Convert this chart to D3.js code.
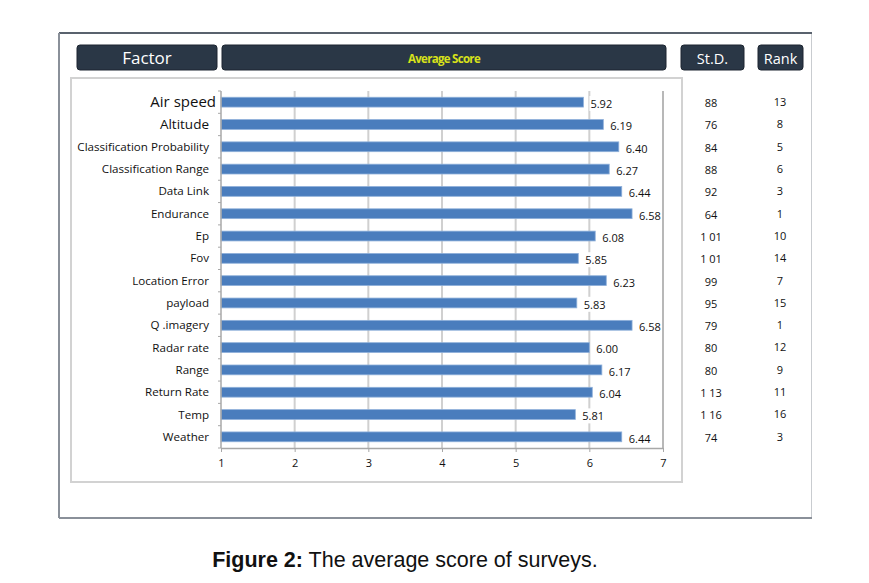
<!DOCTYPE html>
<html><head><meta charset="utf-8">
<script src="https://cdn.jsdelivr.net/npm/d3@7"></script>
<style>
html,body{margin:0;padding:0;background:#fff;}
svg{display:block;}
text{font-family:"Open Sans","Noto Sans",sans-serif;}
</style></head>
<body><svg id="c" width="869" height="583"></svg>
<script>
const factors = ["Air speed","Altitude","Classification Probability","Classification Range","Data Link","Endurance","Ep","Fov","Location Error","payload","Q .imagery","Radar rate","Range","Return Rate","Temp","Weather"];
const scores = [5.92,6.19,6.40,6.27,6.44,6.58,6.08,5.85,6.23,5.83,6.58,6.00,6.17,6.04,5.81,6.44];
const scoreLabels = ["5.92","6.19","6.40","6.27","6.44","6.58","6.08","5.85","6.23","5.83","6.58","6.00","6.17","6.04","5.81","6.44"];
const stds = ["88","76","84","88","92","64","1 01","1 01","99","95","79","80","80","1 13","1 16","74"];
const ranks = ["13","8","5","6","3","1","10","14","7","15","1","12","9","11","16","3"];
const xTicks = [1,2,3,4,5,6,7];
const headers = ["Factor","Average Score","St.D.","Rank"];

const svg = d3.select("#c");

// outer frame
svg.append("rect").attr("x",59.5).attr("y",33.5).attr("width",752).attr("height",484)
  .attr("fill","#fff").attr("stroke","#c9ccd0").attr("stroke-width",1);
svg.append("line").attr("x1",59).attr("x2",812).attr("y1",33).attr("y2",33).attr("stroke","#59626d").attr("stroke-width",2);
svg.append("line").attr("x1",59).attr("x2",59).attr("y1",33).attr("y2",518).attr("stroke","#8a9099").attr("stroke-width",2);
svg.append("line").attr("x1",59).attr("x2",812).attr("y1",518).attr("y2",518).attr("stroke","#8a9099").attr("stroke-width",2);

// header boxes
const hdr = [
  {x:77,w:140,t:headers[0],fs:17,col:"#ffffff",fw:"normal"},
  {x:222,w:444,t:headers[1],fs:11.5,col:"#d8e21a",fw:"bold"},
  {x:681,w:63,t:headers[2],fs:14.5,col:"#ffffff",fw:"normal"},
  {x:758,w:45,t:headers[3],fs:14.5,col:"#ffffff",fw:"normal"}
];
const hg = svg.append("g");
hdr.forEach(h=>{
  hg.append("rect").attr("x",h.x).attr("y",45).attr("width",h.w).attr("height",25).attr("rx",3)
    .attr("fill","#2a3746").attr("stroke","#1c2530").attr("stroke-width",1);
  hg.append("text").attr("x",h.x+h.w/2).attr("y",58.5).attr("dy","0.35em").attr("text-anchor","middle")
    .attr("font-size",h.fs).attr("font-weight",h.fw).attr("fill",h.col)
    .attr("letter-spacing", h.fw==="bold" ? "-0.7" : "0").text(h.t);
});

// inner chart box
svg.append("rect").attr("x",71).attr("y",78).attr("width",611).attr("height",404)
  .attr("fill","#fff").attr("stroke","#d2d2d2").attr("stroke-width",2);

const pL = 221, pR = 663, pT = 91, pB = 448;
const x = d3.scaleLinear().domain([1,7]).range([pL,pR]);
const y = d3.scaleBand().domain(factors).range([pT,pB]).paddingInner(0.56).paddingOuter(0.28);
const yb = d3.scaleBand().domain(factors).range([pT,pB]);

// gridlines
svg.append("g").selectAll("line").data(xTicks.slice(1)).join("line")
  .attr("x1",d=>x(d)).attr("x2",d=>x(d)).attr("y1",pT).attr("y2",pB)
  .attr("stroke",d=>d===7?"#b8b8b8":"#d0d0d0").attr("stroke-width",2);

// bars
svg.append("g").selectAll("rect").data(factors).join("rect")
  .attr("x",x(1)).attr("y",d=>y(d)).attr("height",y.bandwidth())
  .attr("width",(d,i)=>x(scores[i])-x(1))
  .attr("fill","#4a7dbd").attr("stroke","#8fb0da").attr("stroke-width",0.8);

// value labels with white background
const vl = svg.append("g");
factors.forEach((f,i)=>{
  const tx = x(scores[i])+7, ty = yb(f)+yb.bandwidth()/2+2;
  const t = vl.append("text").attr("x",tx).attr("y",ty).attr("dy","0.35em")
    .attr("font-size",11).attr("fill","#111").text(scoreLabels[i]);
  const bb = t.node().getBBox();
  vl.insert("rect","text").attr("x",bb.x-1).attr("y",bb.y).attr("width",bb.width+2).attr("height",bb.height).attr("fill","#fff");
});

// y axis
const ya = svg.append("g").attr("transform",`translate(${pL},0)`);
ya.append("line").attr("x1",0).attr("x2",0).attr("y1",pT).attr("y2",pB).attr("stroke","#a8a8a8").attr("stroke-width",1.5);
ya.selectAll("line.tk").data(d3.range(17)).join("line").attr("class","tk")
  .attr("x1",-3).attr("x2",0).attr("y1",d=>pT+d*yb.step()).attr("y2",d=>pT+d*yb.step())
  .attr("stroke","#a8a8a8");
const fsizes = {"Air speed":15,"Altitude":13.5};
ya.selectAll("text").data(factors).join("text")
  .attr("x",d=>d==="Air speed"?-5:-12).attr("y",d=>yb(d)+yb.bandwidth()/2)
  .attr("dy","0.35em").attr("text-anchor","end")
  .attr("font-size",d=>fsizes[d]||11.6).attr("fill","#111").text(d=>d);

// x axis
const xa = svg.append("g").attr("transform",`translate(0,${pB})`)
  .call(d3.axisBottom(x).tickValues(xTicks).tickSize(4).tickSizeOuter(0).tickFormat(d3.format("d")));
xa.select(".domain").attr("stroke","#a8a8a8").attr("stroke-width",1.5);
xa.selectAll(".tick line").attr("stroke","#a8a8a8");
xa.selectAll(".tick text").attr("font-size",11).attr("fill","#111").attr("y",11)
  .attr("font-family","\"Open Sans\",sans-serif");

// St.D. and Rank columns
svg.append("g").selectAll("text").data(factors).join("text")
  .attr("x",711).attr("y",d=>yb(d)+yb.bandwidth()/2+1).attr("dy","0.35em").attr("text-anchor","middle")
  .attr("font-size",11).attr("fill","#111").text((d,i)=>stds[i]);
svg.append("g").selectAll("text").data(factors).join("text")
  .attr("x",780).attr("y",d=>yb(d)+yb.bandwidth()/2).attr("dy","0.35em").attr("text-anchor","middle")
  .attr("font-size",11).attr("fill","#111").text((d,i)=>ranks[i]);

// caption
const cap = svg.append("text").attr("x",405).attr("y",567).attr("text-anchor","middle")
  .attr("font-size",21.5).attr("fill","#111").style("font-family","\"Liberation Sans\",Arial,sans-serif");
cap.append("tspan").attr("font-weight","bold").text("Figure 2:");
cap.append("tspan").text(" The average score of surveys.");
</script></body></html>
